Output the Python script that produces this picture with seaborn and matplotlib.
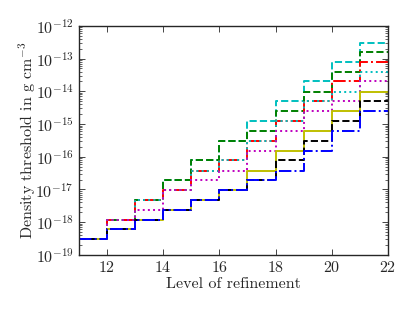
import numpy as np
import pandas as pd
import matplotlib
matplotlib.use('Agg')
import matplotlib.pyplot as plt
import matplotlib.ticker as mticker
import seaborn as sns

# refinement levels (step starts), the last step runs to 22
levels = [11, 12, 13, 14, 15, 16, 17, 18, 19, 20, 21]
x_end = 22

# density thresholds (g cm^-3)
cyan_dashed = [3.0e-19, 1.2e-18, 4.8e-18, 1.9e-17, 7.7e-17, 3.1e-16, 1.2e-15, 4.9e-15, 2.0e-14, 7.9e-14, 3.1e-13]
green_dashed = [3.0e-19, 1.2e-18, 4.8e-18, 1.9e-17, 7.7e-17, 3.1e-16, 6.1e-16, 2.5e-15, 9.8e-15, 3.9e-14, 1.6e-13]
red_dashdot = [3.0e-19, 1.2e-18, 4.8e-18, 9.6e-18, 3.8e-17, 7.7e-17, 3.1e-16, 1.2e-15, 4.9e-15, 2.0e-14, 7.9e-14]
cyan_dotted = [3.0e-19, 1.2e-18, 4.8e-18, 9.6e-18, 3.8e-17, 7.7e-17, 3.1e-16, 1.2e-15, 4.9e-15, 9.8e-15, 3.9e-14]
magenta_dotted = [3.0e-19, 1.2e-18, 2.4e-18, 9.6e-18, 1.9e-17, 3.8e-17, 1.5e-16, 6.1e-16, 2.5e-15, 4.9e-15, 2.0e-14]
yellow_solid = [3.0e-19, 6.0e-19, 1.2e-18, 2.4e-18, 4.8e-18, 9.6e-18, 3.8e-17, 1.5e-16, 6.1e-16, 2.5e-15, 9.8e-15]
black_dashed = [3.0e-19, 6.0e-19, 1.2e-18, 2.4e-18, 4.8e-18, 9.6e-18, 1.9e-17, 7.7e-17, 3.1e-16, 1.2e-15, 4.9e-15]
blue_dashdot = [3.0e-19, 6.0e-19, 1.2e-18, 2.4e-18, 4.8e-18, 9.6e-18, 1.9e-17, 3.8e-17, 1.5e-16, 6.1e-16, 2.5e-15]

series = [
    (cyan_dashed, (0, 0.75, 0.75), '--'),
    (green_dashed, (0, 0.5, 0), '--'),
    (red_dashdot, 'red', '-.'),
    (cyan_dotted, (0, 0.75, 0.75), ':'),
    (magenta_dotted, (0.75, 0, 0.75), ':'),
    (yellow_solid, (0.75, 0.75, 0), '-'),
    (black_dashed, 'black', '--'),
    (blue_dashdot, 'blue', '-.'),
]

sns.set_style('ticks')
plt.rcParams['font.family'] = 'serif'
plt.rcParams['font.serif'] = ['cmr10', 'DejaVu Serif']
plt.rcParams['mathtext.fontset'] = 'cm'
plt.rcParams['axes.formatter.use_mathtext'] = True

fig = plt.figure(figsize=(4.15, 3.12), dpi=100)
ax = fig.add_axes([0.19, 0.183, 0.745, 0.734])

for vals, color, ls in series:
    df = pd.DataFrame({'level': levels + [x_end], 'rho': vals + [vals[-1]]})
    sns.lineplot(data=df, x='level', y='rho', color=color, linestyle=ls,
                 linewidth=1.4, drawstyle='steps-post', ax=ax, legend=False)

ax.set_yscale('log')
ax.set_xlim(11, 22)
ax.set_ylim(1e-19, 1e-12)
ax.set_xticks([12, 14, 16, 18, 20, 22])
ax.yaxis.set_major_locator(mticker.LogLocator(base=10, numticks=20))
ax.yaxis.set_minor_locator(mticker.LogLocator(base=10, subs=np.arange(2, 10), numticks=20))
ax.yaxis.set_minor_formatter(mticker.NullFormatter())
ax.tick_params(which='both', direction='in', top=True, right=True, labelsize=11.5)
ax.tick_params(which='major', length=4, width=0.6)
ax.tick_params(which='minor', length=2, width=0.5)
ax.set_xlabel('Level of refinement', fontsize=11.5, labelpad=2)
ax.set_ylabel(r'Density threshold in g cm$^{-3}$', fontsize=11.5, labelpad=-2)
for s in ax.spines.values():
    s.set_linewidth(1.0)

plt.savefig('out.png', dpi=100)
